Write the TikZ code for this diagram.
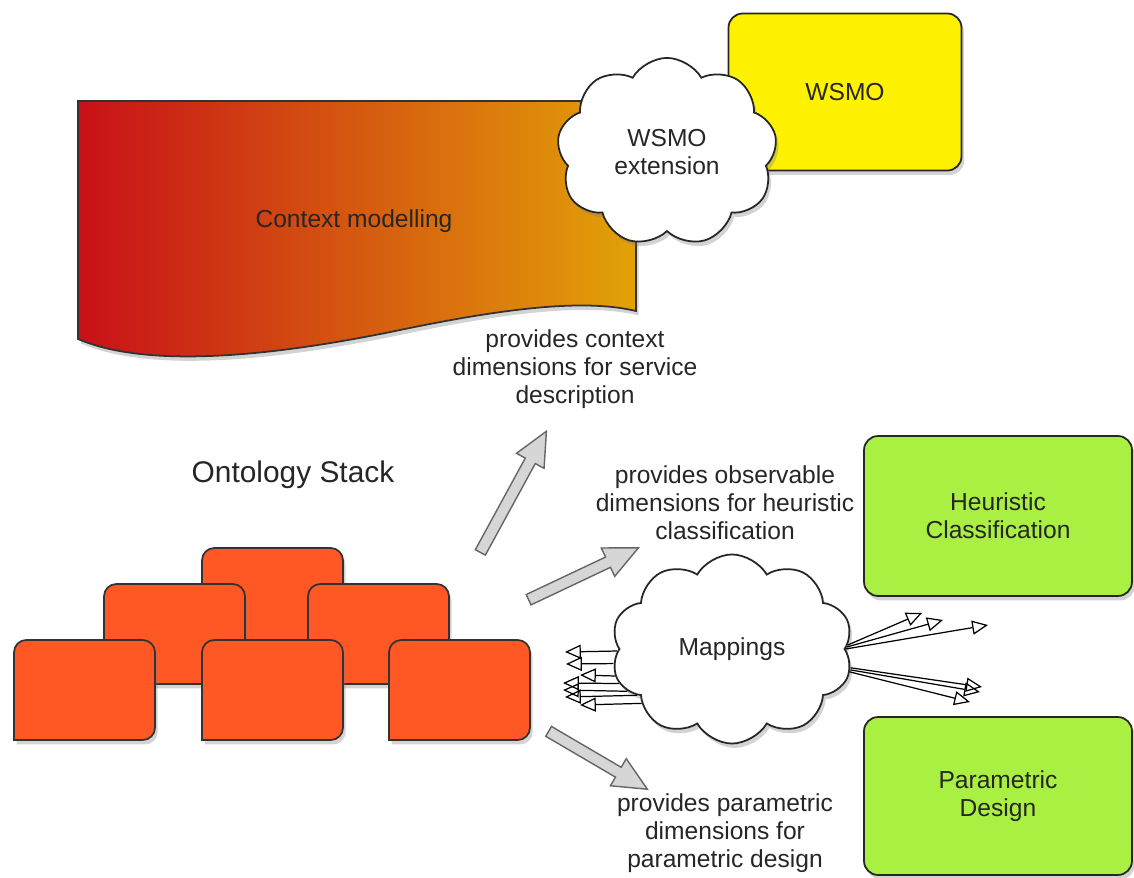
\documentclass[tikz,border=0pt]{standalone}
\usepackage{fontspec}
\setmainfont{Liberation Sans}
\usetikzlibrary{shapes.symbols,shapes.arrows,shadows,arrows.meta,positioning}

\definecolor{ctxred}{RGB}{200,16,24}
\definecolor{ctxorange}{RGB}{220,92,18}
\definecolor{ctxgold}{RGB}{226,162,8}
\definecolor{wsmoyellow}{RGB}{255,242,0}
\definecolor{taskgreen}{RGB}{170,240,66}
\definecolor{stackorange}{RGB}{255,88,36}
\definecolor{arrowgray}{RGB}{214,214,214}

\tikzset{
  shadowed/.style={drop shadow={opacity=0.35,shadow xshift=1.5pt,shadow yshift=-2.5pt}},
  lbl/.style={align=center,font=\fontsize{14}{16}\selectfont,text=black!85},
  box/.style={lbl,draw=black!85,line width=1pt,rounded corners=8pt,shadowed},
  puff/.style={lbl,cloud,draw=black!85,fill=white,line width=1pt,shadowed,
    cloud puff arc=120},
  bigarrow/.style={single arrow,draw=black!60,fill=arrowgray,line width=0.8pt,
    inner xsep=0pt,inner ysep=0.1cm,single arrow head extend=0.2cm,
    single arrow tip angle=50,sloped,pos=0,anchor=tail},
  maparrow/.style={-{Triangle[open,length=9pt,width=8pt]},line width=0.7pt}
}

% one block of the ontology stack, top left corner at (#1,#2)
\newcommand{\stackblock}[2]{
  \draw[shadowed,fill=stackorange,draw=black!80,line width=1pt]
    (#1,#2+100) [rounded corners=7pt] |- (#1+70,#2) -| (#1+141,#2+100)
    [sharp corners] -- cycle;
}

\begin{document}
\begin{tikzpicture}[x=0.02cm,y=-0.02cm]
	\useasboundingbox (0,0) rectangle (1134,877);

	% context modelling banner
	\path[shadowed,draw=black!80,line width=1pt,left color=ctxred,
	  middle color=ctxorange,right color=ctxgold]
	  (78,101) -- (636,101) -- (636,311)
	  .. controls (590,300) and (520,305) .. (400,330)
	  .. controls (280,355) and (150,370) .. (78,339) -- cycle;
	\node[lbl] (ctxmodel) at (354,221) {Context modelling};

	\node[box,fill=wsmoyellow,minimum width=4.66cm,minimum height=3.14cm]
	  (wsmo) at (845,92) {WSMO};
	\node[puff,cloud puffs=9,minimum width=4.4cm,minimum height=3.62cm]
	  (wsmoext) at (667,152) {WSMO\\extension};

	\node[lbl] (ctxtext) at (575,369) {provides context\\dimensions for service\\description};
	\node[lbl,font=\fontsize{17}{20}\selectfont] (stacktitle) at (293,475) {Ontology Stack};
	\node[lbl] (obstext) at (725,503) {provides observable\\dimensions for heuristic\\classification};
	\node[lbl] (partext) at (725,833) {provides parametric\\dimensions for\\parametric design};

	% ontology stack
	\stackblock{202}{548}
	\stackblock{104}{584}
	\stackblock{308}{584}
	\foreach \x in {14,202,389}{
		\stackblock{\x}{640}
	}

	% big arrows out of the stack
	\coordinate (ctxtail) at (480,553);
	\coordinate (ctxtip) at (546,432);
	\coordinate (obstail) at (528,600);
	\coordinate (obstip) at (638,548);
	\coordinate (partail) at (548,731);
	\coordinate (partip) at (647,789);
	\path (ctxtail) -- (ctxtip) node[bigarrow,minimum height=2.76cm] (ctxarrow) {};
	\path (obstail) -- (obstip) node[bigarrow,minimum height=2.43cm] (obsarrow) {};
	\path (partail) -- (partip) node[bigarrow,minimum height=2.29cm] (pararrow) {};

	\node[box,fill=taskgreen,minimum width=5.36cm,minimum height=3.2cm]
	  (heuristic) at (998,516) {Heuristic\\Classification};
	\node[box,fill=taskgreen,minimum width=5.36cm,minimum height=3.16cm]
	  (parametric) at (998,796) {Parametric\\Design};

	\node[puff,cloud puffs=10,minimum width=4.84cm,minimum height=3.36cm]
	  (mappings) at (732,649) {Mappings};

	% mapping arrows
	\foreach \a/\x/\y [count=\i] in {181/565/652,187/566/664,193/580/675,197/563/683,
	    202/563/690,206/565/697,211/580/705}{
		\coordinate (ml\i) at (\x,\y);
		\draw[maparrow] (mappings.\a) -- (ml\i);
	}
	\foreach \a/\x/\y [count=\i] in {2/922/613,1/943/620,0/988/625,
	    -9/982/687,-10/980/692,-11/970/702}{
		\coordinate (mr\i) at (\x,\y);
		\draw[maparrow] (mappings.\a) -- (mr\i);
	}
\end{tikzpicture}
\end{document}
